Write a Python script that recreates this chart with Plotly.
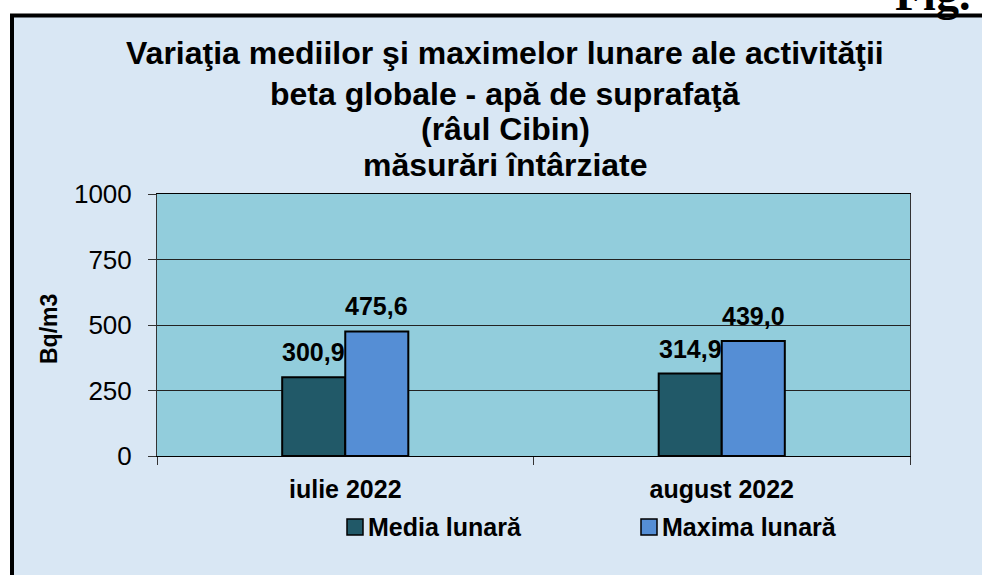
import plotly.graph_objects as go

# Monthly beta activity, surface water (Cibin river), delayed measurements
months = ["iulie 2022", "august 2022"]
series_names = ["Media lunară", "Maxima lunară"]
media_lunara = [300.9, 314.9]
maxima_lunara = [475.6, 439.0]
series_values = [media_lunara, maxima_lunara]
series_colors = ["#215968", "#558ED5"]
y_ticks = [0, 250, 500, 750, 1000]

title_lines = [
    "Variaţia mediilor şi maximelor lunare ale activităţii",
    "beta globale - apă de suprafaţă",
    "(râul Cibin)",
    "măsurări întârziate",
]

W, H = 982, 575
L, R, T, B = 157, 910, 194, 456  # plot area in pixels


def px(x):
    return (x - L) / (R - L)


def py(y):
    return (B - y) / (B - T)


FONT = "Arial, Liberation Sans, sans-serif"
PAGE_BG = "#D9E7F4"
PLOT_BG = "#92CDDC"

fig = go.Figure()
for name, vals, color in zip(series_names, series_values, series_colors):
    fig.add_trace(go.Bar(
        name=name, x=months, y=vals,
        marker=dict(color=color, line=dict(color="#000000", width=2)),
        showlegend=False,
    ))

annotations = []
# value labels above each bar
n = len(series_names)
bar_px = 63
for i, vals in enumerate(series_values):
    offset = (i - (n - 1) / 2) * bar_px
    for m, v in zip(months, vals):
        annotations.append(dict(
            x=m, y=v, xref="x", yref="y", text=f"{v:.1f}".replace(".", ","),
            showarrow=False, xanchor="center", yanchor="bottom",
            xshift=offset, yshift=9,
            font=dict(family=FONT, size=25, color="#000000", weight="bold"),
        ))

# chart title, one line per annotation
title_y = [53, 94, 129, 165]
for line, yy in zip(title_lines, title_y):
    annotations.append(dict(
        x=px(505), y=py(yy), xref="paper", yref="paper", text=line,
        showarrow=False, xanchor="center", yanchor="middle",
        font=dict(family=FONT, size=32, color="#000000", weight="bold"),
    ))

# axis title
annotations.append(dict(
    x=px(49), y=py(329), xref="paper", yref="paper", text="Bq/m3",
    showarrow=False, textangle=-90, xanchor="center", yanchor="middle",
    font=dict(family=FONT, size=23, color="#000000", weight="bold"),
))

# figure label at the top right corner
annotations.append(dict(
    x=px(893), y=py(-6), xref="paper", yref="paper", text="Fig.",
    showarrow=False, xanchor="left", yanchor="middle",
    font=dict(family="Liberation Serif, Times New Roman, serif", size=46,
              color="#000000", weight="bold"),
))

shapes = [
    # framed background panel
    dict(type="rect", xref="paper", yref="paper", layer="below",
         x0=px(12), x1=px(1100), y0=py(700), y1=py(15.5),
         fillcolor=PAGE_BG, line=dict(color="#000000", width=4)),
    # plot area fill
    dict(type="rect", xref="paper", yref="paper", layer="below",
         x0=0, x1=1, y0=0, y1=1, fillcolor=PLOT_BG, line=dict(width=0)),
]

# legend: colour squares and series names
legend_sq = [347, 641]
legend_y = 527
for name, color, x0 in zip(series_names, series_colors, legend_sq):
    shapes.append(dict(
        type="rect", xref="paper", yref="paper",
        x0=px(x0), x1=px(x0 + 16), y0=py(legend_y + 8), y1=py(legend_y - 8),
        fillcolor=color, line=dict(color="#000000", width=1.5)))
    annotations.append(dict(
        x=px(x0 + 19), y=py(legend_y), xref="paper", yref="paper", text=name,
        showarrow=False, xanchor="left", yanchor="middle",
        font=dict(family=FONT, size=25, color="#000000", weight="bold"),
    ))

fig.update_layout(
    width=W, height=H,
    margin=dict(l=L, r=W - R, t=T, b=H - B, pad=0),
    paper_bgcolor="#FFFFFF",
    plot_bgcolor="rgba(0,0,0,0)",
    barmode="group", bargap=0.665, bargroupgap=0,
    showlegend=False,
    annotations=annotations,
    shapes=shapes,
    xaxis=dict(
        type="category", tickson="boundaries", ticks="outside", ticklen=8,
        tickcolor="#333333", showline=True, linecolor="#000000", linewidth=1,
        mirror=True, showgrid=False, ticklabelstandoff=11,
        tickfont=dict(family=FONT, size=25, color="#000000", weight="bold"),
    ),
    yaxis=dict(
        range=[0, 1000], tickvals=y_ticks, ticks="outside", ticklen=8,
        tickcolor="#333333", showline=True, linecolor="#333333", linewidth=1,
        mirror=True, showgrid=True, gridcolor="#222222", gridwidth=1,
        zeroline=False, ticklabelstandoff=11,
        tickfont=dict(family=FONT, size=26, color="#000000"),
    ),
)

fig.write_html("out.html")
